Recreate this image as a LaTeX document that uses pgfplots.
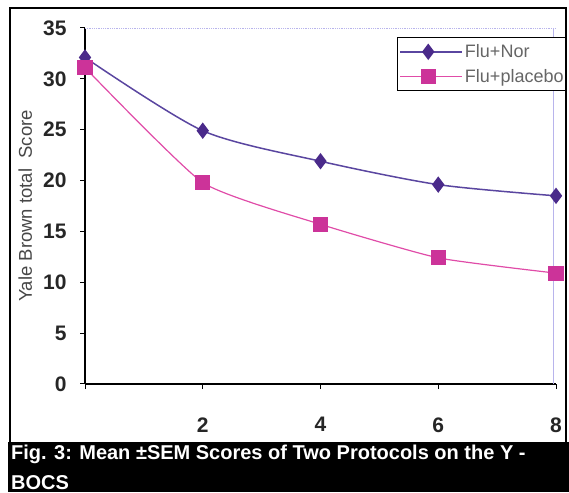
\documentclass[border=0pt]{standalone}
\usepackage{fontspec}
\setmainfont{Liberation Sans}
\usepackage{pgfplots}
\pgfplotsset{compat=1.18}

\definecolor{norline}{HTML}{5A46A0}
\definecolor{normark}{HTML}{4A2A8A}
\definecolor{plaline}{HTML}{E04CA8}
\definecolor{plamark}{HTML}{CC3399}
\definecolor{frameblue}{HTML}{B8B4EC}

\begin{document}
\begin{tikzpicture}[x=1pt,y=1pt]
\useasboundingbox (0,0) rectangle (569,492);
% outer frame and caption band
\fill[black] (8,0) rectangle (569,50);
\draw[black, line width=2.2pt] (10,50) -- (10,484) -- (566,484) -- (566,50);
\node[anchor=base west, text=white, font=\fontsize{20}{21}\selectfont\bfseries, inner sep=0pt]
  at (11,33) {Fig. 3: Mean \char"00B1SEM Scores of Two Protocols on the Y -};
\node[anchor=base west, text=white, font=\fontsize{20}{21}\selectfont\bfseries, inner sep=0pt]
  at (11,3) {BOCS};

\begin{axis}[
  at={(85pt,108pt)}, anchor=south west,
  scale only axis, width=471pt, height=356pt,
  xmin=0, xmax=8, ymin=0, ymax=35,
  axis lines=left,
  axis line style={-, black, line width=1.2pt},
  xtick={0,2,4,6,8}, xticklabels={,2,4,6,8},
  ytick={0,5,...,35},
  tick align=outside, major tick length=5pt,
  tick style={black, line width=1pt},
  /pgf/number format/assume math mode=true,
  ticklabel style={font=\fontsize{21}{22}\selectfont\bfseries, text=black!85},
  xticklabel style={yshift=-25pt},
  yticklabel style={xshift=-10pt},
  ylabel={Yale Brown total\ \ Score},
  ylabel style={at={(axis description cs:-0.127,0.5)}, anchor=center,
    font=\fontsize{18.5}{19}\selectfont, text=black!72},
  legend style={at={(axis description cs:0.6624,0.9747)}, anchor=north west,
    draw=black, line width=1pt, fill=white,
    font=\fontsize{18}{19}\selectfont, text=black!60,
    inner xsep=2pt, inner ysep=5pt, row sep=6pt,
    text width=97pt, cells={anchor=west}},
  legend image code/.code={
    \path (0pt,0pt) -- (62pt,0pt);
    \draw[#1, mark=none] (6pt,0pt) -- (51pt,0pt);
    \draw[#1, only marks] plot coordinates {(28pt,0pt)};
  },
  clip=false,
]
\draw[frameblue, densely dotted, line width=0.8pt] (rel axis cs:0,1) -- (rel axis cs:1,1);
\draw[frameblue, line width=0.8pt] (rel axis cs:0.994,1) -- (rel axis cs:0.994,0);

\addplot[color=norline, line width=1.5pt, smooth, tension=0.45,
  mark=diamond*, mark size=7pt, mark options={fill=normark, draw=normark}]
  coordinates {(0,32.1) (2,24.9) (4,21.9) (6,19.6) (8,18.5)};
\addlegendentry{Flu+Nor}

\addplot[color=plaline, line width=1.2pt, smooth, tension=0.3,
  mark=square*, mark size=7pt, mark options={fill=plamark, draw=plamark}]
  coordinates {(0,31.1) (2,19.8) (4,15.7) (6,12.4) (8,10.9)};
\addlegendentry{Flu+placebo}
\end{axis}
\end{tikzpicture}
\end{document}
